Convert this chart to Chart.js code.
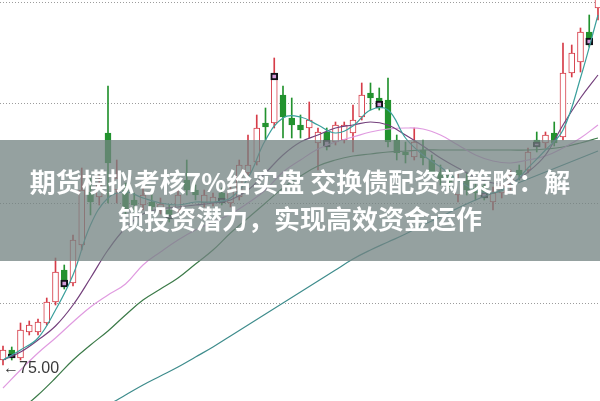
<!DOCTYPE html>
<html>
<head>
<meta charset="utf-8">
<script src="https://cdn.jsdelivr.net/npm/chart.js@4"></script>
<style>
body{margin:0;background:#fff;}
#wrap{position:relative;width:600px;height:401px;overflow:hidden;}
#banner{position:absolute;left:0;top:140px;width:600px;height:121px;box-sizing:border-box;padding-top:22px;
  background:rgba(116,132,130,0.76);color:#fff;font-family:"Noto Sans CJK SC",sans-serif;font-weight:bold;
  font-size:26px;line-height:37px;text-align:center;white-space:nowrap;}
</style>
</head>
<body>
<div id="wrap">
  <canvas id="myChart" width="600" height="401"></canvas>
  <div id="banner">期货模拟考核7%给实盘 交换债配资新策略：解<br>锁投资潜力，实现高效资金运作</div>
</div>
<script>
// daily candles (price units)
var openVals = [75.5, 76.5, 75.7, 78.3, 78.3, 79.2, 81.3, 84.5, 83.2, 87.0,
  92.3, 91.8, 98.2, 92.5, 92.5, 91.5, 91.0, 91.3, 90.5, 90.5,
  90.5, 93.5, 92.5, 91.2, 91.2, 92.2, 91.2, 91.8, 94.2, 95.3,
  99.2, 99.2, 102.0, 99.7, 99.0, 98.7, 97.2, 98.3, 97.3, 97.5,
  98.2, 99.8, 102.2, 101.7, 101.5, 97.5, 96.3, 95.8, 96.5, 95.5,
  94.3, 94.0, 92.0, 93.5, 92.7, 92.9, 91.3, 92.2, 93.0, 94.5,
  94.5, 97.5, 97.2, 98.2, 97.8, 104.2, 105.3, 108.3, 110.7];
var highVals = [76.9, 76.8, 79.2, 79.4, 79.6, 81.7, 85.7, 85.0, 88.0, 94.7,
  93.7, 94.0, 102.9, 95.5, 93.2, 92.2, 93.2, 92.0, 91.7, 91.0,
  92.5, 95.5, 93.0, 92.5, 92.2, 92.7, 93.0, 95.5, 98.0, 100.0,
  100.7, 105.7, 102.9, 101.7, 100.0, 101.3, 98.7, 98.7, 99.3, 99.3,
  101.0, 103.2, 103.2, 102.7, 103.7, 98.0, 97.3, 98.7, 97.5, 96.0,
  95.0, 94.5, 94.2, 94.3, 93.3, 93.5, 92.8, 93.7, 94.5, 95.0,
  96.7, 98.3, 98.3, 99.3, 107.2, 107.0, 108.7, 110.0, 113.5];
var lowVals = [75.0, 75.5, 75.5, 78.0, 78.0, 79.0, 81.0, 82.6, 82.9, 86.5,
  90.0, 91.0, 91.2, 91.2, 89.9, 90.3, 90.5, 90.3, 90.1, 89.3,
  90.3, 92.0, 91.5, 90.8, 90.9, 91.0, 90.8, 91.5, 93.7, 95.0,
  97.5, 98.7, 97.7, 97.7, 97.7, 97.7, 94.5, 96.5, 97.0, 97.2,
  96.3, 99.5, 100.5, 100.5, 96.8, 95.5, 95.2, 95.5, 95.0, 93.7,
  93.0, 92.7, 91.3, 92.0, 91.5, 91.5, 90.5, 91.7, 92.5, 93.5,
  94.2, 96.3, 96.7, 96.9, 97.5, 103.8, 104.3, 106.8, 109.5];
var closeVals = [76.5, 75.7, 78.5, 79.0, 79.3, 81.3, 84.3, 82.8, 87.5, 92.5,
  91.3, 93.0, 95.2, 93.7, 90.5, 91.0, 92.0, 90.8, 91.1, 89.6,
  92.0, 92.5, 92.0, 92.0, 91.8, 91.2, 92.5, 95.0, 95.0, 98.7,
  98.8, 104.0, 99.8, 99.0, 98.5, 99.5, 98.3, 96.8, 99.0, 99.0,
  99.5, 102.0, 101.7, 100.7, 97.3, 96.2, 96.0, 97.3, 95.7, 94.3,
  93.5, 93.3, 93.5, 92.5, 92.2, 91.7, 92.2, 93.0, 94.0, 94.0,
  96.3, 96.8, 98.0, 97.2, 104.2, 106.2, 108.3, 107.0, 113.0];

// signal markers
var markIdx = [1, 7, 19, 25, 31, 37, 43, 55, 61, 67];
var markHi = [76.1, 83.5, 90.0, 91.7, 104.2, 97.5, 101.4, 92.3, 97.3, 107.7];
var markLo = [75.7, 82.8, 89.6, 91.2, 103.5, 96.8, 100.7, 91.7, 96.8, 107.0];

// moving averages, read every 2 candles
var maIdx = [0, 2, 4, 6, 8, 10, 12, 14, 16, 18, 20, 22, 24, 26, 28, 30, 32, 34,
  36, 38, 40, 42, 44, 46, 48, 50, 52, 54, 56, 58, 60, 62, 64, 66, 68];
var ma5 = [75.5, 76.5, 77.7, 80.5, 84.0, 89.0, 91.7, 92.3, 91.7, 91.2, 91.0, 91.3, 91.3, 91.7, 93.7, 97.5, 99.7, 99.8,
  99.0, 98.2, 98.9, 100.5, 100.5, 97.7, 96.0, 94.8, 93.5, 92.5, 92.2, 92.9, 94.7, 96.5, 98.5, 103.7, 110.0];
var ma10 = [75.5, 76.3, 77.5, 78.9, 81.0, 83.7, 86.5, 88.7, 90.1, 90.6, 90.8, 91.0, 91.2, 91.5, 92.5, 94.2, 96.0, 97.3,
  98.0, 98.7, 99.0, 99.3, 99.0, 98.0, 96.9, 95.7, 94.7, 93.8, 93.2, 93.2, 94.3, 96.0, 99.0, 101.7, 104.0];
var ma20 = [72.7, 74.5, 76.2, 77.7, 79.3, 80.8, 82.0, 83.1, 85.0, 86.3, 87.5, 88.5, 89.3, 90.1, 91.2, 92.5, 94.3, 95.5,
  96.6, 97.3, 97.8, 98.3, 98.6, 98.7, 98.6, 98.0, 97.0, 96.0, 95.4, 95.2, 95.5, 95.9, 96.7, 97.7, 99.0];
var ma60 = [69.0, 70.5, 72.0, 73.7, 75.5, 77.0, 78.4, 80.0, 81.5, 82.6, 83.7, 85.1, 86.5, 88.2, 89.7, 91.2, 92.7, 93.9,
  94.9, 95.5, 95.9, 96.1, 96.3, 96.4, 96.5, 96.5, 96.5, 96.5, 96.5, 96.5, 96.5, 96.6, 96.8, 97.2, 97.7];
var ma120 = [65.3, 66.3, 67.2, 68.2, 69.1, 70.1, 71.0, 72.0, 73.0, 73.9, 74.8, 75.8, 76.8, 77.9, 79.0, 80.1, 81.2, 82.3,
  83.4, 84.5, 85.6, 86.5, 87.3, 88.1, 89.0, 89.8, 90.7, 91.5, 92.2, 92.9, 93.6, 94.3, 95.0, 95.7, 96.4];

var gridTicks = [81.2, 91.2, 101.2, 111.2];

var rojo = '#d63c48';
var verde = '#22922e';

var mechas = [], cuerpos = [], colores = [], rellenos = [];
for (var i = 0; i < openVals.length; i++) {
  var sube = closeVals[i] >= openVals[i];
  mechas.push({x: i, y: [lowVals[i], highVals[i]]});
  cuerpos.push({x: i, y: [openVals[i], closeVals[i]]});
  colores.push(sube ? rojo : verde);
  rellenos.push(sube ? '#ffffff' : verde);
}
var marcas = markIdx.map(function(x, k){ return {x: x, y: [markLo[k], markHi[k]]}; });

function linea(vals, color){
  return {
    type: 'line',
    data: maIdx.map(function(x, k){ return {x: x, y: vals[k]}; }),
    borderColor: color,
    borderWidth: 1.2,
    pointRadius: 0,
    tension: 0.4,
    fill: false,
    order: 0
  };
}

// label for the lowest low
var etiquetaMin = {
  id: 'etiquetaMin',
  afterDatasetsDraw: function(chart){
    var iMin = lowVals.indexOf(Math.min.apply(null, lowVals));
    var ctx = chart.ctx;
    ctx.save();
    ctx.font = '16px "Liberation Sans", "DejaVu Sans", sans-serif';
    ctx.fillStyle = '#3a3a3a';
    ctx.textBaseline = 'middle';
    ctx.fillText('\u2190' + lowVals[iMin].toFixed(2),
      chart.scales.x.getPixelForValue(iMin),
      chart.scales.y.getPixelForValue(lowVals[iMin]) + 4);
    ctx.restore();
  }
};

var ctx = document.getElementById('myChart').getContext('2d');
var myChart = new Chart(ctx, {
  type: 'bar',
  data: {
    datasets: [
      linea(ma5, '#3a9f9c'),
      linea(ma10, '#74407c'),
      linea(ma20, '#e09be0'),
      linea(ma60, '#3b7a48'),
      linea(ma120, '#3e8c8c'),
      {
        data: marcas,
        backgroundColor: '#d49ad8',
        borderColor: '#111118',
        borderWidth: 2,
        borderSkipped: false,
        barThickness: 7,
        grouped: false,
        order: 1
      },
      {
        data: cuerpos,
        backgroundColor: rellenos,
        borderColor: colores,
        borderWidth: 1,
        borderSkipped: false,
        barThickness: 6,
        grouped: false,
        order: 2
      },
      {
        data: mechas,
        backgroundColor: colores,
        barThickness: 1,
        grouped: false,
        order: 3
      }
    ]
  },
  options: {
    responsive: false,
    animation: false,
    devicePixelRatio: 1,
    layout: { padding: 0 },
    plugins: { legend: { display: false }, tooltip: { enabled: false } },
    scales: {
      x: { type: 'linear', min: -0.343, max: 68.23, offset: false, display: false },
      y: {
        min: 71.4,
        max: 111.5,
        ticks: { display: false },
        grid: { color: '#9c9c9c', lineWidth: 1, drawTicks: false },
        border: { display: false, dash: [1, 2] },
        afterBuildTicks: function(scale){
          scale.ticks = gridTicks.map(function(v){ return {value: v}; });
        }
      }
    }
  },
  plugins: [etiquetaMin]
});
</script>
</body>
</html>
